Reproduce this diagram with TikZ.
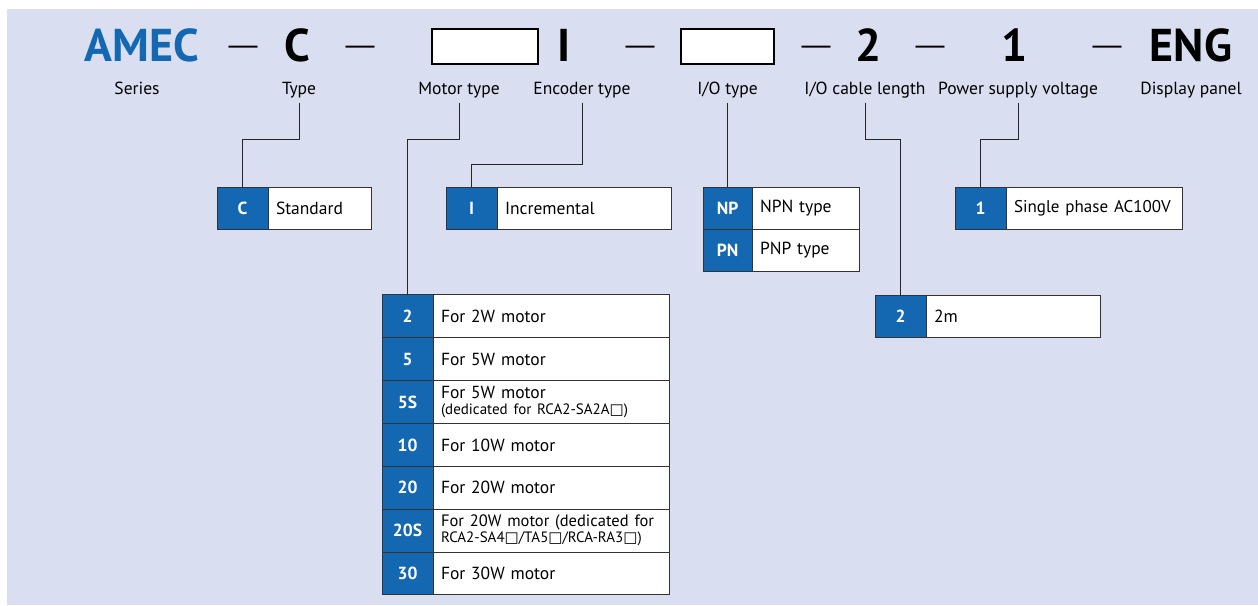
\documentclass[tikz,border=0pt]{standalone}
\usepackage{fontspec}
\setmainfont{PT Sans}
\newfontfamily\symfont{DejaVu Sans}
\newfontfamily\dashfont{Liberation Sans}
\usetikzlibrary{positioning}
\definecolor{bgblue}{HTML}{D9DEF0}
\definecolor{codeblue}{HTML}{1467B1}
\definecolor{edge}{HTML}{333333}
\newcommand{\boxmark}{{\symfont\char"25A1}}
\newcommand{\notesize}{\fontsize{15}{17}\selectfont}
\tikzset{
    bigcode/.style={anchor=base, inner sep=0pt, font=\fontsize{46}{50}\selectfont\bfseries},
    sepmark/.style={anchor=base, inner sep=0pt, font=\dashfont\fontsize{29}{29}\selectfont},
    part/.style={anchor=base, inner sep=0pt, outer ysep=5pt, font=\fontsize{17.5}{20}\selectfont},
    blank/.style={draw=black, fill=white, line width=1.1pt, minimum height=35, inner sep=0pt},
    code/.style={draw=edge, fill=codeblue, text=white, line width=1pt, outer sep=0pt,
        minimum width=51, minimum height=42, inner sep=0pt, font=\fontsize{17.5}{20}\selectfont\bfseries},
    desc/.style={draw=edge, fill=white, line width=1pt, outer sep=0pt, minimum height=42,
        align=left, inner xsep=8pt, inner ysep=0pt, font=\fontsize{17.5}{19}\selectfont},
    wire/.style={draw=black!85, line width=1pt}
}
\begin{document}
\begin{tikzpicture}[x=1pt, y=-1pt]
    \useasboundingbox (0,0) rectangle (1258,605);
    \fill[bgblue] (7,9) rectangle (1258,605);

    % model code
    \node[bigcode, text=codeblue] (kAMEC) at (142,61) {AMEC};
    \node[sepmark] (s1) at (243,54) {—};
    \node[bigcode] (kC) at (297,61) {C};
    \node[sepmark] (s2) at (360,54) {—};
    \node[blank, minimum width=106] (bMotor) at (485,46.5) {};
    \node[bigcode] (kI) at (564,61) {I};
    \node[sepmark] (s3) at (640,54) {—};
    \node[blank, minimum width=93] (bIO) at (727.5,46.5) {};
    \node[sepmark] (s4) at (816,54) {—};
    \node[bigcode] (k2) at (869,61) {2};
    \node[sepmark] (s5) at (930,54) {—};
    \node[bigcode] (k1) at (1015,61) {1};
    \node[sepmark] (s6) at (1107,54) {—};
    \node[bigcode] (kENG) at (1191,61) {ENG};

    % captions
    \node[part] (lSeries) at (137,94) {Series};
    \node[part] (lType) at (299,94) {Type};
    \node[part] (lMotor) at (459,94) {Motor type};
    \node[part] (lEnc) at (582,94) {Encoder type};
    \node[part] (lIO) at (727.5,94) {I/O type};
    \node[part] (lCable) at (865,94) {I/O cable length};
    \node[part] (lPower) at (1018,94) {Power supply voltage};
    \node[part] (lPanel) at (1191,94) {Display panel};

    % type
    \node[code] (cC) at (242.5,208) {C};
    \node[desc, text width=87, right=0pt of cC] (dC) {Standard};

    % encoder
    \node[code] (cI) at (471.5,208) {I};
    \node[desc, text width=158, right=0pt of cI] (dI) {Incremental};

    % I/O
    \node[code, minimum width=49] (cNP) at (727.5,208) {NP};
    \node[desc, text width=91, right=0pt of cNP] (dNP) {NPN type};
    \node[code, minimum width=49, below=0pt of cNP] (cPN) {PN};
    \node[desc, text width=91, right=0pt of cPN] (dPN) {PNP type};

    % power supply
    \node[code] (c1) at (980.5,208) {1};
    \node[desc, text width=160, right=0pt of c1] (d1) {\mbox{\fontsize{17}{19}\selectfont Single phase AC100V}};

    % cable length
    \node[code] (c2m) at (900.5,316.5) {2};
    \node[desc, text width=158, right=0pt of c2m] (d2m) {2m};

    % motor
    \node[code, minimum height=42.86] (cM2) at (407.5,316.4) {2};
    \node[desc, minimum height=42.86, text width=220, right=0pt of cM2] (dM2) {For 2W motor};
    \node[code, minimum height=42.86, below=0pt of cM2] (cM5) {5};
    \node[desc, minimum height=42.86, text width=220, right=0pt of cM5] (dM5) {For 5W motor};
    \node[code, minimum height=42.86, below=0pt of cM5] (cM5S) {5S};
    \node[desc, minimum height=42.86, text width=220, right=0pt of cM5S] (dM5S)
        {For 5W motor\\[-3pt]{\notesize (dedicated for RCA2-SA2A\boxmark)}};
    \node[code, minimum height=42.86, below=0pt of cM5S] (cM10) {10};
    \node[desc, minimum height=42.86, text width=220, right=0pt of cM10] (dM10) {For 10W motor};
    \node[code, minimum height=42.86, below=0pt of cM10] (cM20) {20};
    \node[desc, minimum height=42.86, text width=220, right=0pt of cM20] (dM20) {For 20W motor};
    \node[code, minimum height=42.86, below=0pt of cM20] (cM20S) {20S};
    \node[desc, minimum height=42.86, text width=220, right=0pt of cM20S] (dM20S)
        {\mbox{\fontsize{16.5}{19}\selectfont For 20W motor (dedicated for}\\[-3pt]\mbox{\notesize RCA2-SA4\boxmark/TA5\boxmark/RCA-RA3\boxmark)}};
    \node[code, minimum height=42.86, below=0pt of cM20S] (cM30) {30};
    \node[desc, minimum height=42.86, text width=220, right=0pt of cM30] (dM30) {For 30W motor};

    % connectors
    \draw[wire] (lType.south) -- (lType.south |- 0,139) -| (cC.north);
    \draw[wire] (lMotor.south) -- (lMotor.south |- 0,139) -| (cM2.north);
    \draw[wire] (lEnc.south) -- (lEnc.south |- 0,164) -| (cI.north);
    \draw[wire] (lIO.south) -- (cNP.north);
    \draw[wire] (lCable.south) -- (lCable.south |- 0,139) -| (c2m.north);
    \draw[wire] (lPower.south) -- (lPower.south |- 0,139) -| (c1.north);
\end{tikzpicture}
\end{document}
